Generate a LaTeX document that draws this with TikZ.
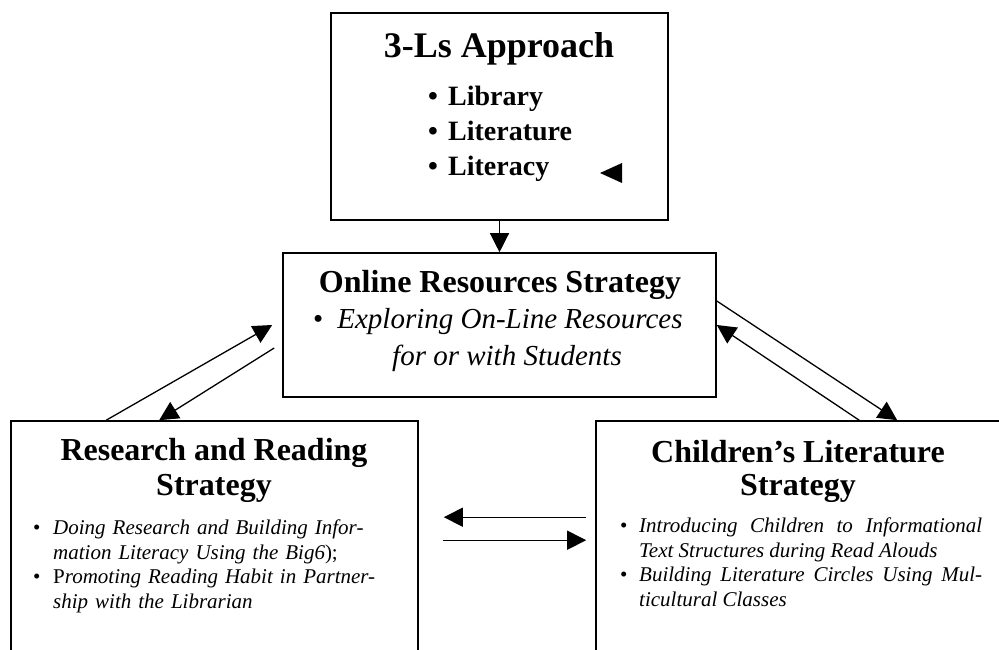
\documentclass[tikz,border=0pt]{standalone}
\usepackage{fontspec}
\setmainfont{Liberation Serif}
\usetikzlibrary{arrows.meta}

\newlength{\bulletind}
\newcommand{\bitem}[1]{\par\hangindent=\bulletind\hangafter=1\noindent\hbox to\bulletind{\textbullet\hfil}\strut#1}

\tikzset{
	box/.style={draw, line width=1.6pt, inner sep=0pt},
	link/.style={line width=1.3pt, -{Triangle[length=19pt,width=19pt]}},
	headline/.style={font=\fontsize{36}{40}\selectfont\bfseries, anchor=base, inner sep=0pt},
	boxtitle/.style={font=\fontsize{32}{35}\selectfont\bfseries, anchor=base, inner sep=0pt},
	smallitems/.style={font=\fontsize{21}{24.5}\selectfont, anchor=north west, inner sep=0pt},
}

\begin{document}
\begin{tikzpicture}[x=1pt,y=-1pt]
	%%%%% START %%%%%
	\useasboundingbox (0,0) rectangle (999,650);
	\clip (0,0) rectangle (999,650);
	
	% 3-Ls box
	\node[box, minimum width=337pt, minimum height=207pt] (ls) at (499.5,116.5) {};
	\node[headline] (lstitle) at (499,58) {3-Ls Approach};
	\node[font=\fontsize{28}{35}\selectfont\bfseries, anchor=north west, inner sep=0pt,
		text width=200pt, align=left, /utils/exec={\setlength{\bulletind}{20pt}}] (lsitems) at (428,70.5)
		{\bitem{Library}\bitem{Literature}\bitem{Literacy}\par};
	\fill (600,173) -- (622,163) -- (622,183) -- cycle;
	
	% online resources box
	\node[box, minimum width=433pt, minimum height=144pt] (ors) at (499.5,325) {};
	\node[boxtitle] (orstitle) at (500,292) {Online Resources Strategy};
	\node[font=\fontsize{29}{34}\selectfont, anchor=base west, inner sep=0pt] (orsline1) at (313,328)
		{\textbullet\hspace{14pt}\textit{Exploring On-Line Resources}};
	\node[font=\fontsize{29}{34}\selectfont, anchor=base west, inner sep=0pt] (orsline2) at (392,365)
		{\textit{for or with Students}};
	
	% research and reading box
	\node[box, minimum width=407pt, minimum height=300pt] (rr) at (214.5,571) {};
	\node[boxtitle] (rrtitle1) at (214,460) {Research and Reading};
	\node[boxtitle] (rrtitle2) at (214,495) {Strategy};
	\node[smallitems, text width=345pt, align=left, /utils/exec={\setlength{\bulletind}{20pt}}] (rritems) at (33,509.9)
		{\bitem{\textit{Doing Research and Building Infor-\newline mation Literacy Using the Big6});}%
		\bitem{P\textit{romoting Reading Habit in Partner-\newline ship with the Librarian}}\par};
	
	% children's literature box
	\node[box, minimum width=406pt, minimum height=300pt] (cl) at (799,571) {};
	\node[boxtitle] (cltitle1) at (798,462) {Children’s Literature};
	\node[boxtitle] (cltitle2) at (798,495) {Strategy};
	\node[smallitems, text width=362pt, align=justify, /utils/exec={\setlength{\bulletind}{19pt}}] (clitems) at (620,507.9)
		{\bitem{\textit{Introducing Children to Informational\linebreak Text Structures during Read Alouds}}%
		\bitem{\textit{Building Literature Circles Using Mul-\linebreak ticultural Classes}}\par};
	
	% connectors
	\draw[link] (ls.south) -- (ors.north);
	\draw[link] ([xshift=96pt]rr.north west) -- ([xshift=-10pt]ors.west);
	\draw[link] ([shift={(-8pt,-23pt)}]ors.west) -- ([xshift=149pt]rr.north west);
	\draw[link] ([yshift=24pt]ors.east) -- ([xshift=302pt]cl.north west);
	\draw[link] ([xshift=264pt]cl.north west) -- (ors.east);
	\draw[link] ([shift={(-9pt,-97pt)}]cl.north west) -- ([shift={(25pt,-97pt)}]rr.north east);
	\draw[link] ([shift={(24pt,-120pt)}]rr.north east) -- ([shift={(-9pt,-120pt)}]cl.north west);
	
	%%%%% END %%%%%
\end{tikzpicture}
\end{document}
